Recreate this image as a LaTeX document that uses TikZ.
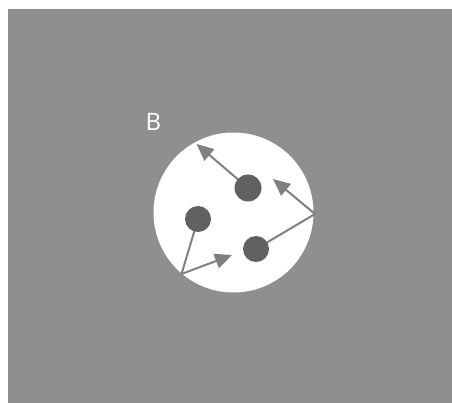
\documentclass[tikz,border=0pt]{standalone}
\usepackage{fontspec}
\setsansfont{Open Sans}
\usepackage{tikz}
\usetikzlibrary{positioning, calc, arrows.meta}
\usepackage{xcolor}

\definecolor{bggray}{HTML}{8F8F8F}
\definecolor{dotgray}{HTML}{616161}
\definecolor{arrowgray}{HTML}{808080}

\begin{document}
\begin{tikzpicture}[x=1pt, y=-1pt,
    move/.style={line width=2pt, arrowgray, -{Triangle[length=17pt, width=15pt]}},
    link/.style={line width=2pt, arrowgray}]
            \useasboundingbox (0,0) rectangle (452,403);
            \fill[bggray] (8,9) rectangle (452,403);

            % the ball
            \coordinate (ball) at (233.5,212.5);
            \fill[white] (ball) circle (80);
            \node[white, font=\sffamily\fontsize{24}{28}\selectfont] (lbl) at (153.5,121.5) {B};

            % particles
            \coordinate (P1) at (248,188);
            \coordinate (P2) at (198,219);
            \coordinate (P3) at (256,249);

            % wall hits
            \coordinate (W1) at (315,214);
            \coordinate (W2) at (181.5,274);

            % arrow tips
            \coordinate (A1) at (196.5,144);
            \coordinate (A2) at (273,179);
            \coordinate (A3) at (232,255);

            \draw[move] (P1) -- (A1);
            \draw[link] (P3) -- (W1);
            \draw[move] (W1) -- (A2);
            \draw[link] (P2) -- (W2);
            \draw[move] (W2) -- (A3);

            \fill[dotgray] (P1) circle (13.5);
            \fill[dotgray] (P2) circle (13);
            \fill[dotgray] (P3) circle (13);
        \end{tikzpicture}
\end{document}
